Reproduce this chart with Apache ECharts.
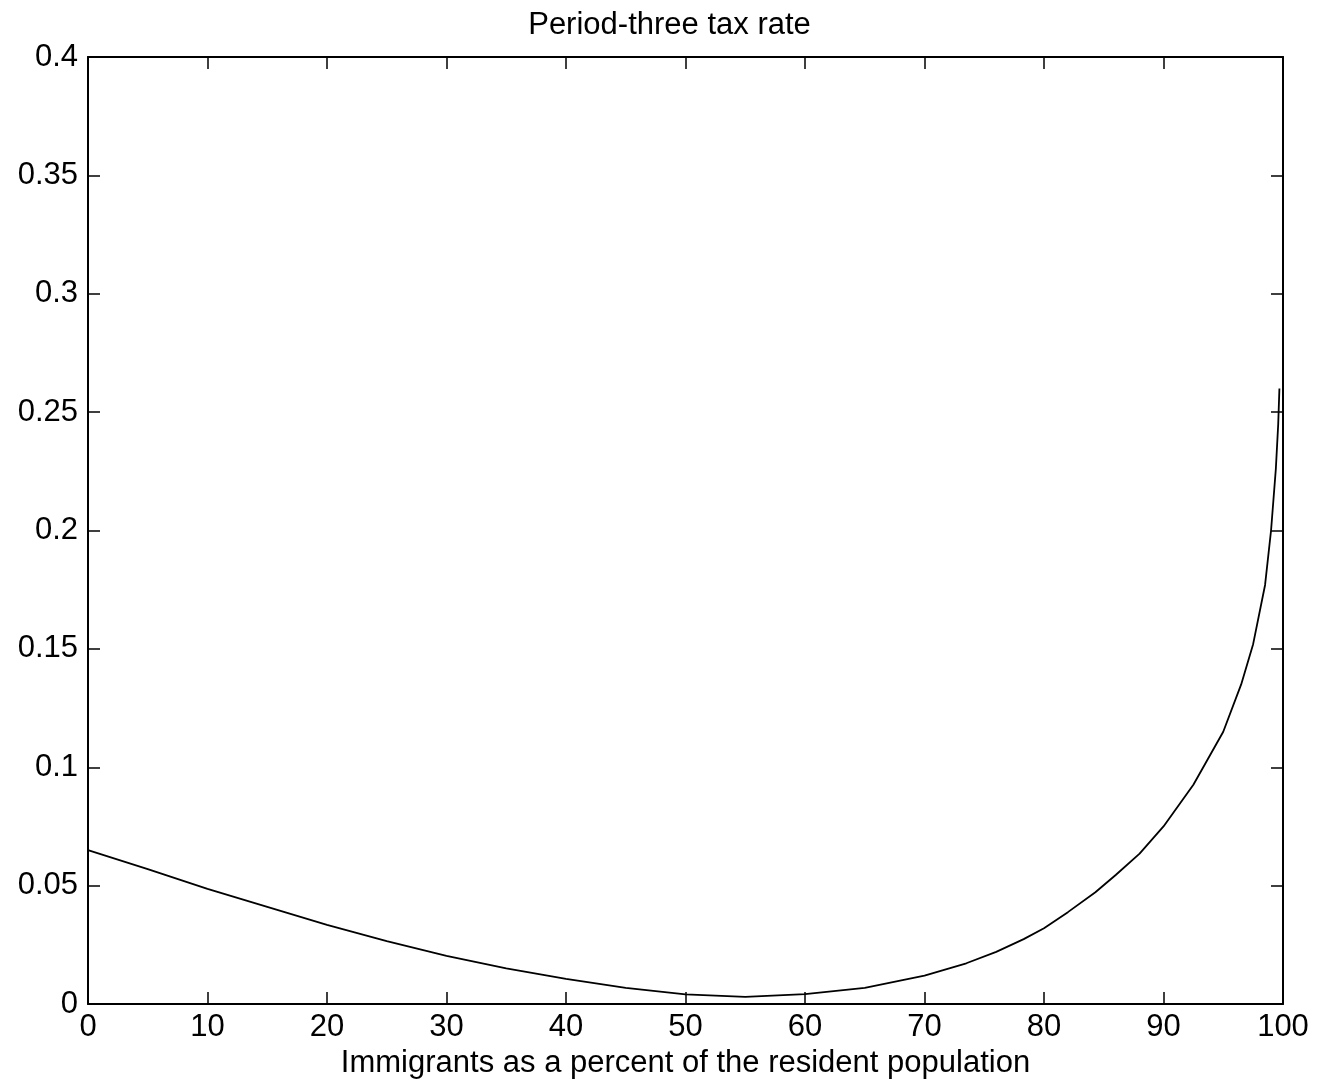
<!DOCTYPE html>
<html>
<head>
<meta charset="utf-8">
<script src="https://cdn.jsdelivr.net/npm/echarts@6/dist/echarts.min.js"></script>
<style>
html,body{margin:0;padding:0;background:#fff;}
#chart{width:1339px;height:1084px;}
</style>
</head>
<body>
<div id="chart"></div>
<script>
const titleText = 'Period-three tax rate';
const xAxisName = 'Immigrants as a percent of the resident population';
const xValues = [0, 5, 10, 15, 20, 25, 30, 35, 40, 45, 50, 55, 60, 65, 70, 73.5, 76, 78.3, 80, 82, 84.3, 86, 88, 90, 92.5, 95, 96.5, 97.5, 98.5, 99, 99.4, 99.6, 99.7];
const taxRate = [0.065, 0.057, 0.0486, 0.041, 0.0334, 0.0266, 0.0203, 0.015, 0.0106, 0.0068, 0.0041, 0.003, 0.0042, 0.0068, 0.012, 0.0172, 0.022, 0.0274, 0.032, 0.0388, 0.0472, 0.0545, 0.0635, 0.075, 0.0926, 0.115, 0.135, 0.152, 0.177, 0.2, 0.226, 0.245, 0.26];
const xTicks = {min: 0, max: 100, interval: 10};
const yTicks = {min: 0, max: 0.4, interval: 0.05};

const font = "'Liberation Sans', Arial, Helvetica, sans-serif";
const chart = echarts.init(document.getElementById('chart'));
const tickStyle = {show: true, inside: true, length: 12, lineStyle: {color: '#000', width: 1.5}};
const lineStyle = {show: true, onZero: false, lineStyle: {color: '#000', width: 2}};
chart.setOption({
  animation: false,
  backgroundColor: '#fff',
  title: {
    text: titleText, left: 'center', top: 5,
    textStyle: {fontFamily: font, fontSize: 31, fontWeight: 'normal', color: '#000'}
  },
  grid: {left: 88, right: 56, top: 57, bottom: 80, containLabel: false},
  xAxis: [{
    type: 'value', min: xTicks.min, max: xTicks.max, interval: xTicks.interval,
    position: 'bottom',
    name: xAxisName, nameLocation: 'middle', nameGap: 40,
    nameTextStyle: {fontFamily: font, fontSize: 31, color: '#000'},
    axisLine: lineStyle, axisTick: tickStyle, splitLine: {show: false},
    axisLabel: {fontFamily: font, fontSize: 31, color: '#000', margin: 8}
  }, {
    type: 'value', min: xTicks.min, max: xTicks.max, interval: xTicks.interval,
    position: 'top',
    axisLine: lineStyle, axisTick: tickStyle, splitLine: {show: false},
    axisLabel: {show: false}
  }],
  yAxis: [{
    type: 'value', min: yTicks.min, max: yTicks.max, interval: yTicks.interval,
    position: 'left',
    axisLine: lineStyle, axisTick: tickStyle, splitLine: {show: false},
    axisLabel: {fontFamily: font, fontSize: 31, color: '#000', margin: 10,
      formatter: v => String(Math.round(v * 100) / 100)}
  }, {
    type: 'value', min: yTicks.min, max: yTicks.max, interval: yTicks.interval,
    position: 'right',
    axisLine: lineStyle, axisTick: tickStyle, splitLine: {show: false},
    axisLabel: {show: false}
  }],
  series: [{
    type: 'line',
    data: xValues.map((x, i) => [x, taxRate[i]]),
    showSymbol: false,
    smooth: false,
    lineStyle: {color: '#000', width: 1.8},
    xAxisIndex: 0, yAxisIndex: 0
  }]
});
</script>
</body>
</html>
